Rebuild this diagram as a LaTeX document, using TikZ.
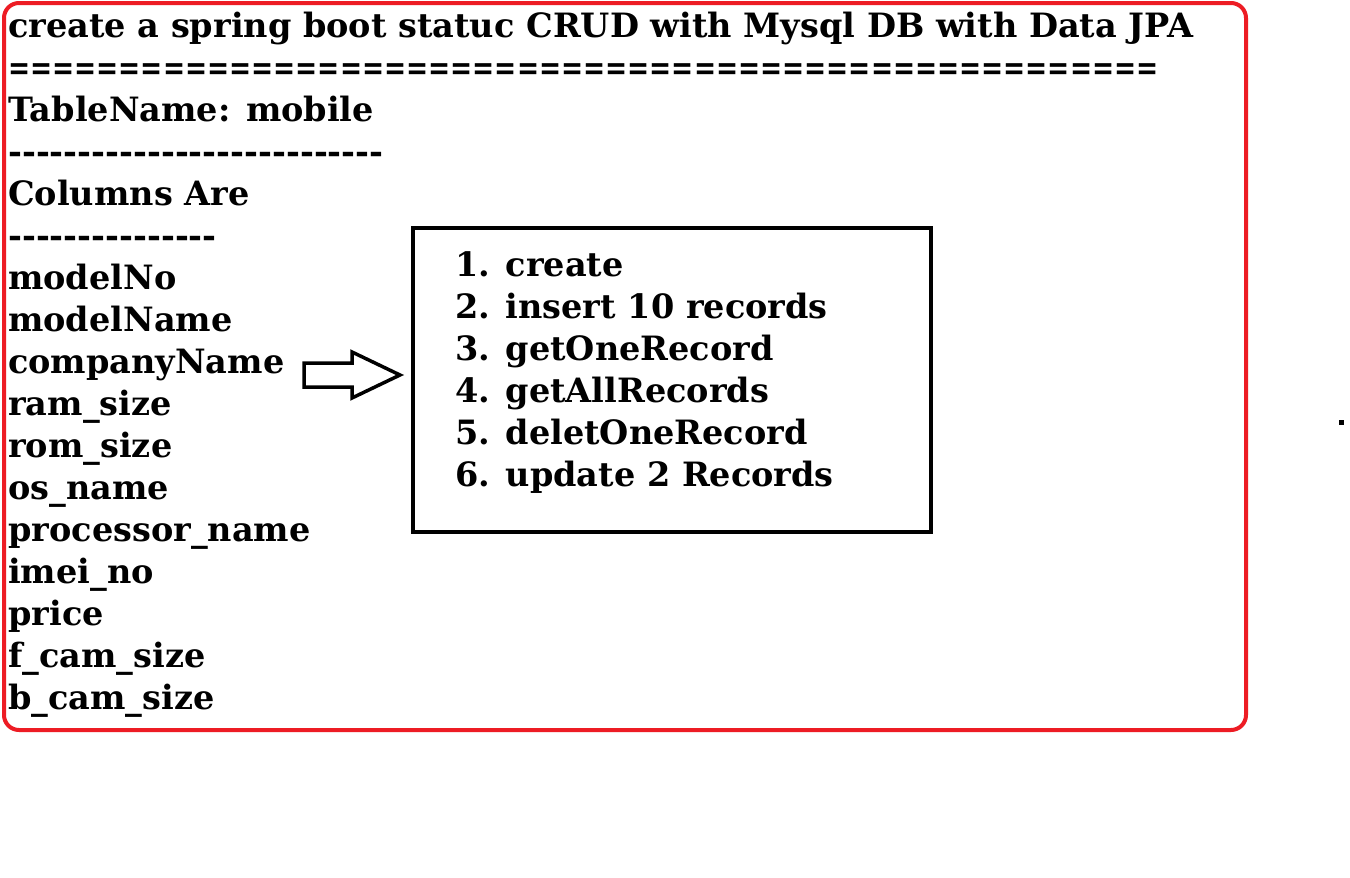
\documentclass[tikz,border=0pt]{standalone}
\usepackage{fontspec}
\setmainfont{DejaVu Serif}
\newfontfamily\rulefont[FakeStretch=0.8]{DejaVu Serif}
\usepackage{tikz}
\usetikzlibrary{calc}
\definecolor{frame}{HTML}{ED1C24}
\definecolor{ink}{HTML}{000000}
\newcommand\dashrow[1]{\foreach\k in {1,...,#1}{-\kern0pt}}
\newcommand\eqrow[1]{\foreach\k in {1,...,#1}{=\kern0pt}}
\tikzset{
  outer/.style={draw=frame, line width=4pt, rounded corners=15pt},
  opsbox/.style={draw=ink, line width=4pt, minimum width=518pt, minimum height=304pt, inner sep=0pt},
  blockarrow/.style={draw=ink, line width=3.5pt, fill=white, line join=miter},
  txt/.style={anchor=base west, inner sep=0pt, text=ink, font=\bfseries\fontsize{33.5}{40}\selectfont},
  rulerow/.style={anchor=base west, inner sep=0pt, text=ink, font=\rulefont\bfseries\fontsize{33}{40}\selectfont}
}

\begin{document}
\begin{tikzpicture}[x=1pt, y=-1pt]
  \useasboundingbox (0,0) rectangle (1350,878);
  \fill[white] (0,0) rectangle (1350,878);

  \draw[outer] (4,3) rectangle (1246,730);

  \node[txt] (title) at (8,37) {create a spring boot statuc CRUD with Mysql DB with Data JPA};
  \node[rulerow] (eqline) at (8,79) {\eqrow{52}};
  \node[txt] (table) at (8,121) {TableName: mobile};
  \node[txt] (dashA) at (8,163) {\dashrow{27}};
  \node[txt] (colhead) at (8,205) {Columns Are};
  \node[txt] (dashB) at (8,247) {\dashrow{15}};
  \node[txt] (c1) at (8,289) {modelNo};
  \node[txt] (c2) at (8,331) {modelName};
  \node[txt] (c3) at (8,373) {companyName};
  \node[txt] (c4) at (8,415) {ram\_size};
  \node[txt] (c5) at (8,457) {rom\_size};
  \node[txt] (c6) at (8,499) {os\_name};
  \node[txt] (c7) at (8,541) {processor\_name};
  \node[txt] (c8) at (8,583) {imei\_no};
  \node[txt] (c9) at (8,625) {price};
  \node[txt] (c10) at (8,667) {f\_cam\_size};
  \node[txt] (c11) at (8,709) {b\_cam\_size};

  \node[opsbox] (ops) at (672,380) {};
  \node[txt] (op1) at (455,276) {1. create};
  \node[txt] (op2) at (455,318) {2. insert 10 records};
  \node[txt] (op3) at (455,360) {3. getOneRecord};
  \node[txt] (op4) at (455,402) {4. getAllRecords};
  \node[txt] (op5) at (455,444) {5. deletOneRecord};
  \node[txt] (op6) at (455,486) {6. update 2 Records};

  % block arrow from the column list to the box
  \coordinate (tip) at ($(ops.west)+(-11,-5)$);
  \coordinate (tail) at (304,375);
  \draw[blockarrow] ($(tail)+(0,-12)$) -- ($(tip)+(-48,-12)$) -- ($(tip)+(-48,-23)$)
    -- (tip) -- ($(tip)+(-48,23)$) -- ($(tip)+(-48,12)$) -- ($(tail)+(0,12)$) -- cycle;

  \fill[ink] (1339,420) rectangle (1344,425);
\end{tikzpicture}
\end{document}
